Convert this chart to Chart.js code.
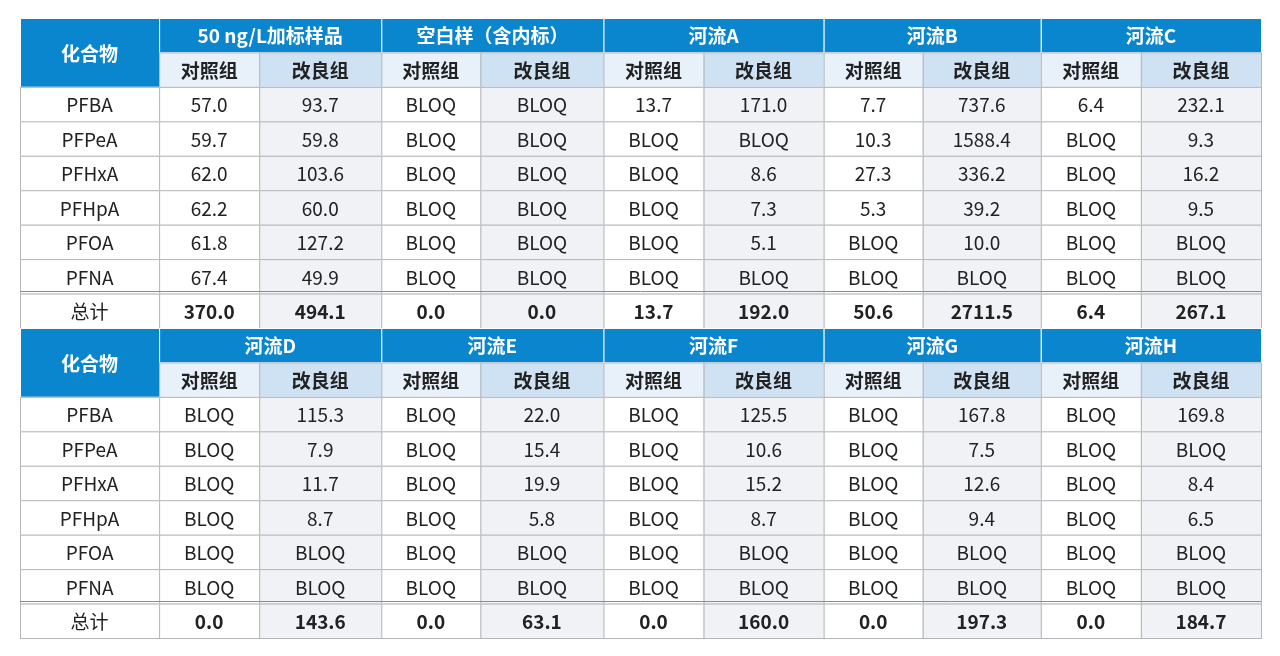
<!DOCTYPE html>
<html><head><meta charset="utf-8">
<script src="https://cdn.jsdelivr.net/npm/chart.js@4/dist/chart.umd.min.js"></script>
<style>html,body{margin:0;background:#fff}#wrap{width:1280px;height:656px}</style>
</head><body><div id="wrap"><canvas id="c"></canvas></div>
<script>
const compounds = ['PFBA', 'PFPeA', 'PFHxA', 'PFHpA', 'PFOA', 'PFNA'];
const groupsTop = ['50 ng/L加标样品', '空白样（含内标）', '河流A', '河流B', '河流C'];
const groupsBottom = ['河流D', '河流E', '河流F', '河流G', '河流H'];
const subLabels = ['对照组', '改良组'];
// each row: [ctrl, mod] per group
const dataTop = [
  ['57.0','93.7','BLOQ','BLOQ','13.7','171.0','7.7','737.6','6.4','232.1'],
  ['59.7','59.8','BLOQ','BLOQ','BLOQ','BLOQ','10.3','1588.4','BLOQ','9.3'],
  ['62.0','103.6','BLOQ','BLOQ','BLOQ','8.6','27.3','336.2','BLOQ','16.2'],
  ['62.2','60.0','BLOQ','BLOQ','BLOQ','7.3','5.3','39.2','BLOQ','9.5'],
  ['61.8','127.2','BLOQ','BLOQ','BLOQ','5.1','BLOQ','10.0','BLOQ','BLOQ'],
  ['67.4','49.9','BLOQ','BLOQ','BLOQ','BLOQ','BLOQ','BLOQ','BLOQ','BLOQ']
];
const totalTop = ['370.0','494.1','0.0','0.0','13.7','192.0','50.6','2711.5','6.4','267.1'];
const dataBottom = [
  ['BLOQ','115.3','BLOQ','22.0','BLOQ','125.5','BLOQ','167.8','BLOQ','169.8'],
  ['BLOQ','7.9','BLOQ','15.4','BLOQ','10.6','BLOQ','7.5','BLOQ','BLOQ'],
  ['BLOQ','11.7','BLOQ','19.9','BLOQ','15.2','BLOQ','12.6','BLOQ','8.4'],
  ['BLOQ','8.7','BLOQ','5.8','BLOQ','8.7','BLOQ','9.4','BLOQ','6.5'],
  ['BLOQ','BLOQ','BLOQ','BLOQ','BLOQ','BLOQ','BLOQ','BLOQ','BLOQ','BLOQ'],
  ['BLOQ','BLOQ','BLOQ','BLOQ','BLOQ','BLOQ','BLOQ','BLOQ','BLOQ','BLOQ']
];
const totalBottom = ['0.0','143.6','0.0','63.1','0.0','160.0','0.0','197.3','0.0','184.7'];
const totalLabel = '总计';
const headLabel = '化合物';

// column edges in x-scale units, rows in y-scale units (0 = top)
const colEdges = [0, 139, 239, 361, 460, 583, 683, 803, 902, 1020, 1120, 1240];
const nRows = 18;

const BLUE = '#0a86cf', SUB1 = '#e8f1fa', SUB2 = '#cfe2f4', ALT = '#f1f2f5', LINE = '#b4b6ba';
const FONT = '"Noto Sans CJK SC","Noto Sans",sans-serif';

const tablePlugin = {
  id: 'table',
  afterDraw(chart) {
    const ctx = chart.ctx, xs = chart.scales.x, ys = chart.scales.y;
    const X = v => xs.getPixelForValue(v), Y = v => ys.getPixelForValue(v);
    const cell = (c0, c1, r0, r1, bg, text, opts = {}) => {
      const x0 = X(colEdges[c0]), x1 = X(colEdges[c1]), y0 = Y(r0), y1 = Y(r1);
      if (bg) { ctx.fillStyle = bg; ctx.fillRect(x0, y0, x1 - x0, y1 - y0); }
      ctx.strokeStyle = opts.stroke || LINE; ctx.lineWidth = 1;
      ctx.strokeRect(x0 + 0.5, y0 + 0.5, x1 - x0, y1 - y0);
      if (text != null) {
        ctx.fillStyle = opts.color || '#222';
        ctx.font = (opts.bold ? 'bold ' : '') + '19px ' + FONT;
        ctx.textAlign = 'center'; ctx.textBaseline = 'middle';
        ctx.fillText(text, (x0 + x1) / 2, (y0 + y1) / 2 + 1);
      }
    };
    const block = (base, groups, rows, totals) => {
      cell(0, 1, base, base + 2, BLUE, headLabel, { bold: true, color: '#fff', stroke: '#fff' });
      groups.forEach((g, i) => {
        cell(1 + 2 * i, 3 + 2 * i, base, base + 1, BLUE, g, { bold: true, color: '#fff', stroke: '#fff' });
        cell(1 + 2 * i, 2 + 2 * i, base + 1, base + 2, SUB1, subLabels[0], { bold: true });
        cell(2 + 2 * i, 3 + 2 * i, base + 1, base + 2, SUB2, subLabels[1], { bold: true });
      });
      rows.forEach((r, ri) => {
        const y = base + 2 + ri;
        cell(0, 1, y, y + 1, '#fff', compounds[ri]);
        r.forEach((v, ci) => cell(1 + ci, 2 + ci, y, y + 1, ci % 2 ? ALT : '#fff', v));
      });
      const ty = base + 8;
      cell(0, 1, ty, ty + 1, '#fff', totalLabel);
      totals.forEach((v, ci) => cell(1 + ci, 2 + ci, ty, ty + 1, ci % 2 ? ALT : '#fff', v, { bold: true }));
      // double rule above totals
      ctx.strokeStyle = '#8a8c90'; ctx.lineWidth = 1;
      const yy = Math.round(Y(ty)) - 2.5;
      ctx.beginPath(); ctx.moveTo(X(0), yy); ctx.lineTo(X(1240), yy); ctx.stroke();
    };
    block(0, groupsTop, dataTop, totalTop);
    block(9, groupsBottom, dataBottom, totalBottom);
  }
};

new Chart(document.getElementById('c'), {
  type: 'scatter',
  data: { datasets: [{ data: [] }] },
  options: {
    responsive: true, maintainAspectRatio: false, animation: false,
    layout: { padding: { left: 20, right: 19, top: 18, bottom: 18 } },
    plugins: { legend: { display: false }, tooltip: { enabled: false } },
    scales: {
      x: { type: 'linear', min: 0, max: 1240, display: false },
      y: { type: 'linear', min: 0, max: nRows, reverse: true, display: false }
    }
  },
  plugins: [tablePlugin]
});
</script></body></html>
